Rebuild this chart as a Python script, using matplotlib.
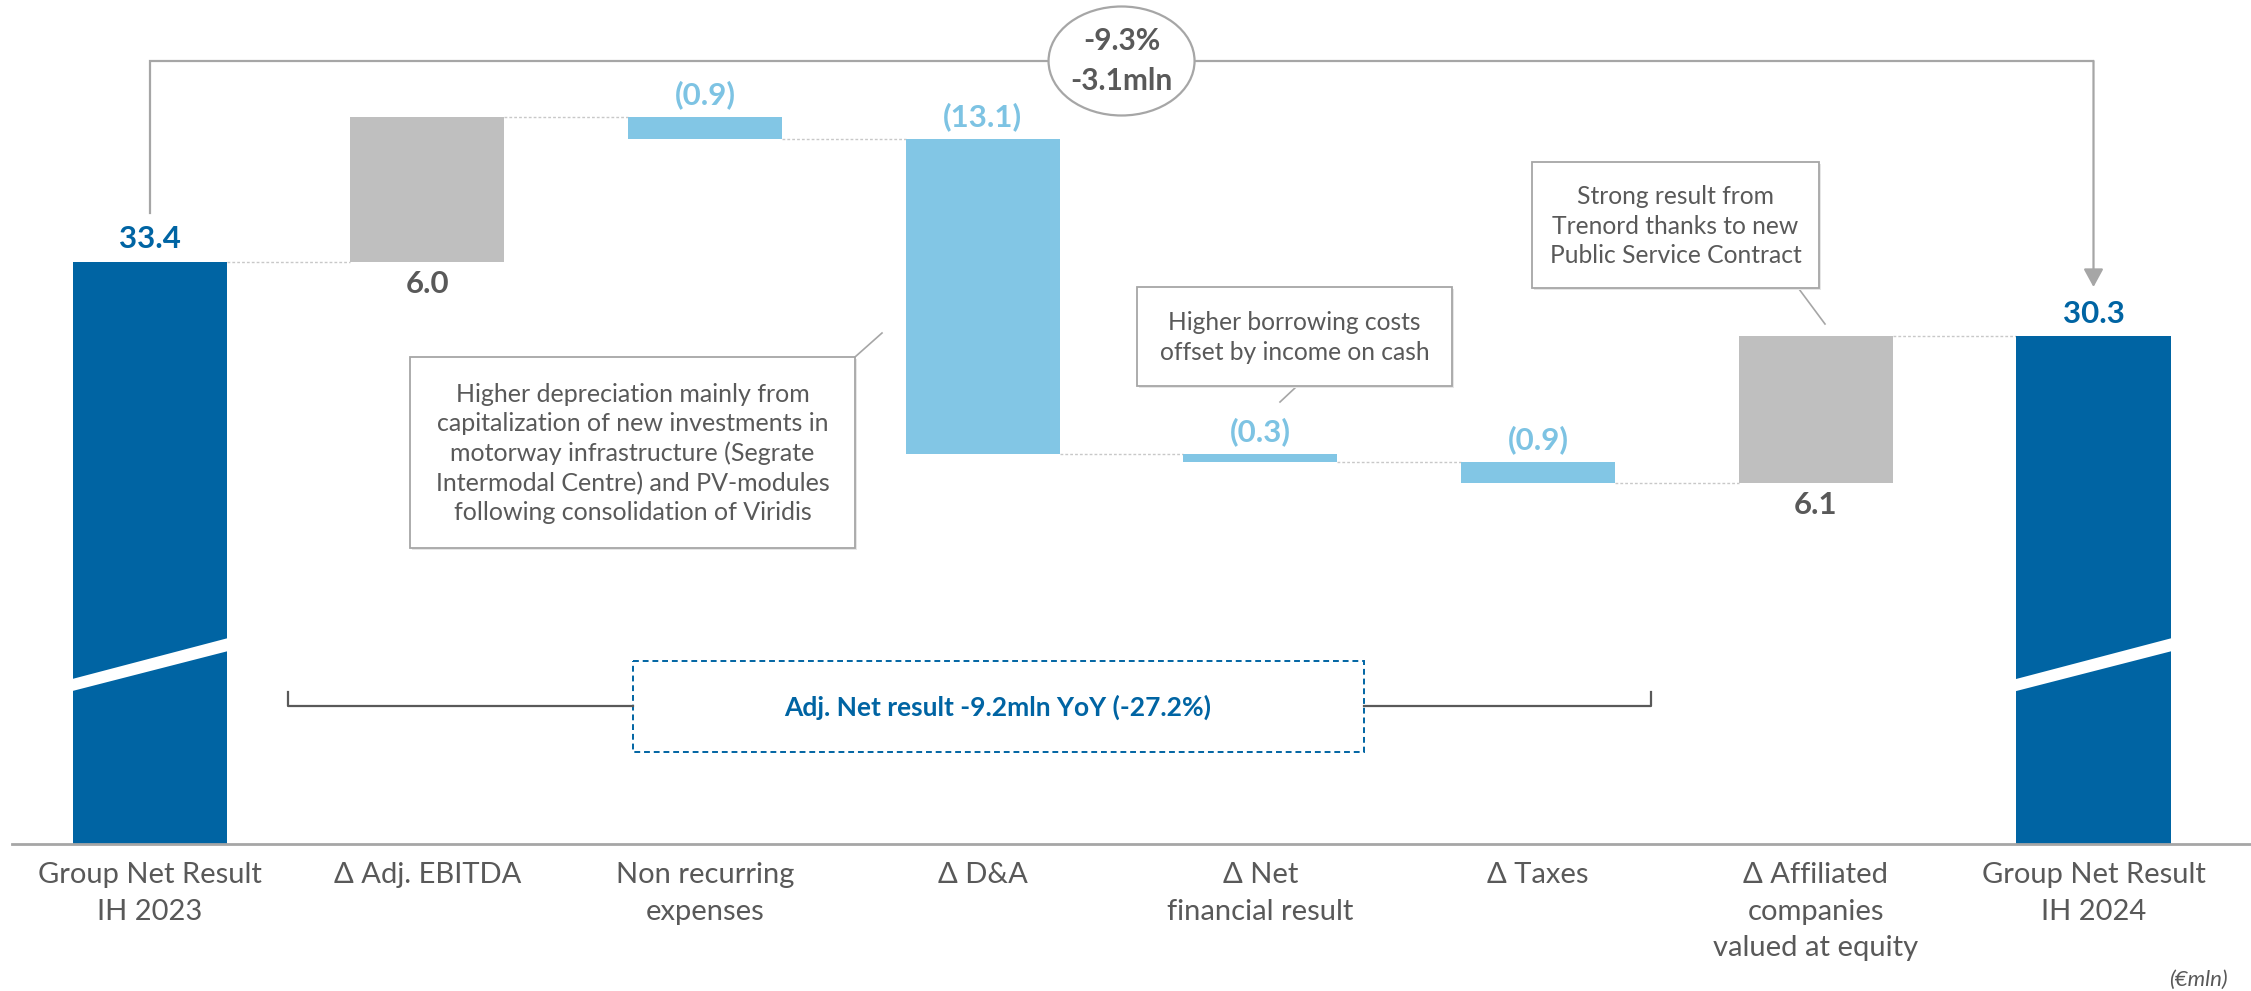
import matplotlib
matplotlib.use("Agg")
import matplotlib.pyplot as plt
from matplotlib.patches import Polygon, Ellipse, Rectangle
from matplotlib.transforms import Affine2D
import numpy as np

# ---------------- data ----------------
categories = ["Group Net Result\nIH 2023", "Δ Adj. EBITDA", "Non recurring\nexpenses", "Δ D&A",
              "Δ Net\nfinancial result", "Δ Taxes", "Δ Affiliated\ncompanies\nvalued at equity",
              "Group Net Result\nIH 2024"]
start_value = 33.4
deltas = [6.0, -0.9, -13.1, -0.3, -0.9, 6.1]
end_value = 30.3
delta_labels = ["6.0", "(0.9)", "(13.1)", "(0.3)", "(0.9)", "6.1"]
total_labels = ["33.4", "30.3"]
change_pct = "-9.3%"
change_abs = "-3.1mln"
adj_text = "Adj. Net result -9.2mln YoY (-27.2%)"
note_da = ("Higher depreciation mainly from\ncapitalization of new investments in\n"
           "motorway infrastructure (Segrate\nIntermodal Centre) and PV-modules\n"
           "following consolidation of Viridis")
note_fin = "Higher borrowing costs\noffset by income on cash"
note_aff = "Strong result from\nTrenord thanks to new\nPublic Service Contract"
unit_text = "(€mln)"

# ---------------- style ----------------
W, H = 2251, 991
DARK_BLUE = "#0064A3"
LIGHT_BLUE = "#82C6E5"
GRAY_BAR = "#BFBFBF"
TXT_GRAY = "#595959"
LINE_GRAY = "#A6A6A6"
NEG_TXT = "#7DC3E3"
FONT = ["Lato", "DejaVu Sans"]
plt.rcParams["font.family"] = FONT

fig = plt.figure(figsize=(W / 100, H / 100), dpi=100)
fig.patch.set_facecolor("white")
# pixel transform (x right, y down from top-left)
px = Affine2D().scale(1 / W, -1 / H).translate(0, 1) + fig.transFigure

base_px = 844
ax = fig.add_axes([0, 1 - base_px / H, 1, base_px / H])
y_bottom = 9.23
ax.set_ylim(y_bottom, y_bottom + base_px / 24.1)
x0_px, step_px = 149.6, 277.7
ax.set_xlim(-x0_px / step_px, (W - x0_px) / step_px)
for s in ax.spines.values():
    s.set_visible(False)
ax.set_yticks([])

n = len(categories)
xs = np.arange(n)
bw = 0.555

# waterfall bottoms/heights
levels = np.concatenate([[start_value], start_value + np.cumsum(deltas)])
bottoms, heights, colors = [], [], []
bottoms.append(0); heights.append(start_value); colors.append(DARK_BLUE)
for i, d in enumerate(deltas):
    prev = levels[i]
    bottoms.append(min(prev, prev + d)); heights.append(abs(d))
    colors.append(GRAY_BAR if d > 0 else LIGHT_BLUE)
bottoms.append(0); heights.append(end_value); colors.append(DARK_BLUE)
ax.bar(xs, heights, bottom=bottoms, width=bw, color=colors, zorder=3)

# connectors
for i in range(n - 1):
    lvl = levels[i] if i < len(levels) else end_value
    ax.plot([xs[i] + bw / 2, xs[i + 1] - bw / 2], [lvl, lvl], color="#C8C8C8",
            lw=1.0, ls=(0, (2, 1.5)), zorder=2)

# axis break slashes on total bars
for xi in (xs[0], xs[-1]):
    poly = Polygon([[xi - bw / 2 - 0.01, 15.55], [xi + bw / 2 + 0.01, 17.25],
                    [xi + bw / 2 + 0.01, 17.79], [xi - bw / 2 - 0.01, 16.05]],
                   closed=True, facecolor="white", edgecolor="none", zorder=4)
    ax.add_patch(poly)

# baseline
ax.plot([-0.497, ax.get_xlim()[1]], [y_bottom, y_bottom], color=LINE_GRAY, lw=2.0,
        clip_on=False, zorder=5)

# value labels
off = 16
VFS = 22.5
ax.annotate(total_labels[0], (xs[0], start_value), xytext=(0, off), textcoords="offset points",
            ha="center", va="center", fontsize=VFS, fontweight="bold", color=DARK_BLUE)
ax.annotate(total_labels[1], (xs[-1], end_value), xytext=(0, off), textcoords="offset points",
            ha="center", va="center", fontsize=VFS, fontweight="bold", color=DARK_BLUE)
for i, d in enumerate(deltas):
    xi = xs[i + 1]
    if d > 0:
        ax.annotate(delta_labels[i], (xi, levels[i]), xytext=(0, -off), textcoords="offset points",
                    ha="center", va="center", fontsize=VFS, fontweight="bold", color=TXT_GRAY)
    else:
        ax.annotate(delta_labels[i], (xi, levels[i]), xytext=(0, off), textcoords="offset points",
                    ha="center", va="center", fontsize=VFS, fontweight="bold", color=NEG_TXT)

# category labels
ax.set_xticks(xs)
ax.set_xticklabels(categories, fontsize=21, color=TXT_GRAY, linespacing=1.5)
ax.tick_params(axis="x", length=0, pad=13)

# top bracket with arrow
y_top = 41.72
ax.plot([xs[0], xs[0], xs[-1]], [start_value + 2.0, y_top, y_top], color=LINE_GRAY, lw=1.6,
        zorder=2, solid_joinstyle="miter")
ax.annotate("", xy=(xs[-1], end_value + 2.04), xytext=(xs[-1], y_top),
            arrowprops=dict(arrowstyle="-|>,head_length=0.55,head_width=0.3", color=LINE_GRAY,
                            lw=1.6, shrinkA=0, shrinkB=0, mutation_scale=20))
ell = Ellipse((3.5, y_top), 146 / step_px, 109 / 24.1, facecolor="white", edgecolor=LINE_GRAY,
              lw=1.6, zorder=6)
ax.add_patch(ell)
ax.text(3.5, y_top + 0.83, change_pct, ha="center", va="center", fontsize=21.5, fontweight="bold",
        color=TXT_GRAY, zorder=7)
ax.text(3.5, y_top - 0.83, change_abs, ha="center", va="center", fontsize=21.5, fontweight="bold",
        color=TXT_GRAY, zorder=7)


# note boxes (pixel layout)
def note_box(x1, y1, x2, y2, text, line, fs=18, ls=1.33):
    sh = Rectangle((x1 + 2, y1 + 2), x2 - x1, y2 - y1, transform=px, facecolor="#E6E6E6",
                   edgecolor="none", zorder=7)
    fig.patches.append(sh)
    r = Rectangle((x1, y1), x2 - x1, y2 - y1, transform=px, facecolor="white",
                  edgecolor=LINE_GRAY, lw=1.3, zorder=8)
    fig.patches.append(r)
    fig.text((x1 + x2) / 2 / W, 1 - ((y1 + y2) / 2 + 1) / H, text, ha="center", va="center",
             fontsize=fs, color=TXT_GRAY, linespacing=ls, zorder=9)
    fig.lines.append(plt.Line2D([line[0], line[2]], [line[1], line[3]], transform=px,
                                color=LINE_GRAY, lw=1.2))


note_box(410, 357, 855, 548, note_da, (855, 357, 882, 333))
note_box(1137, 287, 1452, 386, note_fin, (1296, 387, 1280, 402), fs=17.7)
note_box(1532, 162, 1819, 288, note_aff, (1799, 289, 1825, 324), fs=17.7)

# adjusted net result box and bracket
fig.patches.append(Rectangle((633, 661), 1364 - 633, 752 - 661, transform=px, facecolor="none",
                             edgecolor=DARK_BLUE, lw=1.4, ls=(0, (3, 2))))
fig.text(998 / W, 1 - 707 / H, adj_text, ha="center", va="center", fontsize=19,
         fontweight="bold", color=DARK_BLUE)
fig.lines.append(plt.Line2D([288, 288, 633], [692, 706, 706], transform=px, color=TXT_GRAY, lw=1.6))
fig.lines.append(plt.Line2D([1364, 1651, 1651], [706, 706, 692], transform=px, color=TXT_GRAY, lw=1.6))

fig.text(2228 / W, 1 - 980 / H, unit_text, ha="right", va="center", fontsize=16, style="italic",
         color=TXT_GRAY)

fig.savefig("out.png", dpi=100, facecolor="white")
